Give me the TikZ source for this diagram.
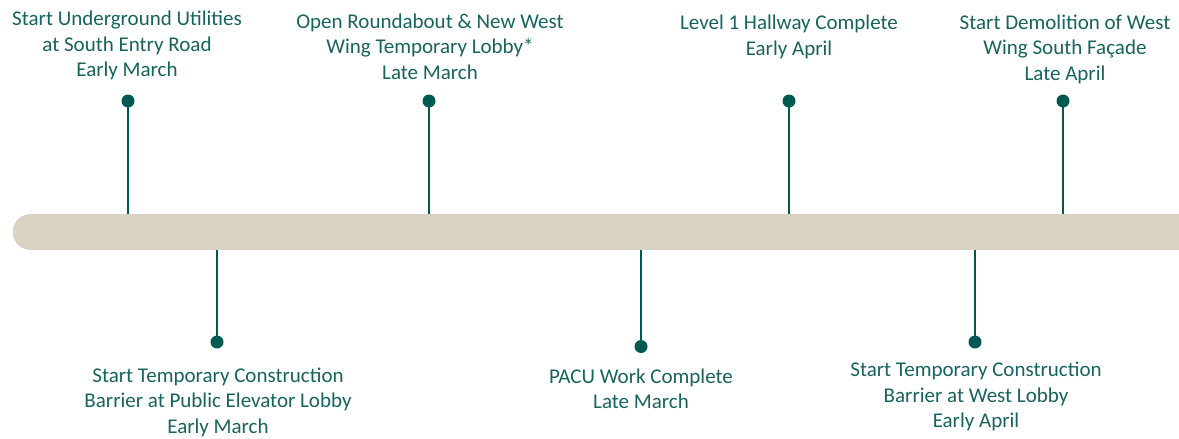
\documentclass[tikz,border=0pt]{standalone}
\usepackage{fontspec}
\setmainfont{Carlito}
\definecolor{bar}{HTML}{D9D1C2}
\definecolor{stem}{HTML}{005A52}
\definecolor{txt}{HTML}{17635E}
\begin{document}
\begin{tikzpicture}[x=1pt,y=-1pt,
  stemline/.style={draw=stem,line width=2.6pt},
  dot/.style={circle,fill=stem,inner sep=0pt,minimum size=13pt},
  label/.style={text=txt,align=center,inner sep=0pt,font=\fontsize{21}{25.5}\selectfont}]
\useasboundingbox (0,0) rectangle (1179,439);
\clip (0,0) rectangle (1179,439);
% bar anchor points
\coordinate (bL) at (31,232);
\coordinate (bR) at (1230,232);
\foreach \n/\x in {u1/128,u2/429,u3/789,u4/1063,l1/217,l2/641,l3/975}
  \coordinate (b\n) at (\x,232);
% dots
\node[dot] (du1) at (128,101) {};
\node[dot] (du2) at (429,101) {};
\node[dot] (du3) at (789,101) {};
\node[dot] (du4) at (1063,101) {};
\node[dot] (dl1) at (217,342) {};
\node[dot] (dl2) at (641,346.5) {};
\node[dot] (dl3) at (975,342) {};
% stems
\foreach \n in {u1,u2,u3,u4,l1,l2,l3}
  \draw[stemline] (d\n.center) -- (b\n);
% bar
\draw[bar,line width=36.5pt,line cap=round] (bL) -- (bR);
% labels
\node[label] (tu1) at (127,45.5) {Start Underground Utilities\\at South Entry Road\\Early March};
\node[label] (tu2) at (430,46.7) {Open Roundabout \& New West\\Wing Temporary Lobby*\\Late March};
\node[label] (tu3) at (789,37) {Level 1 Hallway Complete\\Early April};
\node[label] (tu4) at (1065,49) {Start Demolition of West\\Wing South Façade\\Late April};
\node[label] (tl1) at (218,402) {Start Temporary Construction\\Barrier at Public Elevator Lobby\\Early March};
\node[label] (tl2) at (641,389) {PACU Work Complete\\Late March};
\node[label] (tl3) at (976,396.5) {Start Temporary Construction\\Barrier at West Lobby\\Early April};
\end{tikzpicture}
\end{document}
